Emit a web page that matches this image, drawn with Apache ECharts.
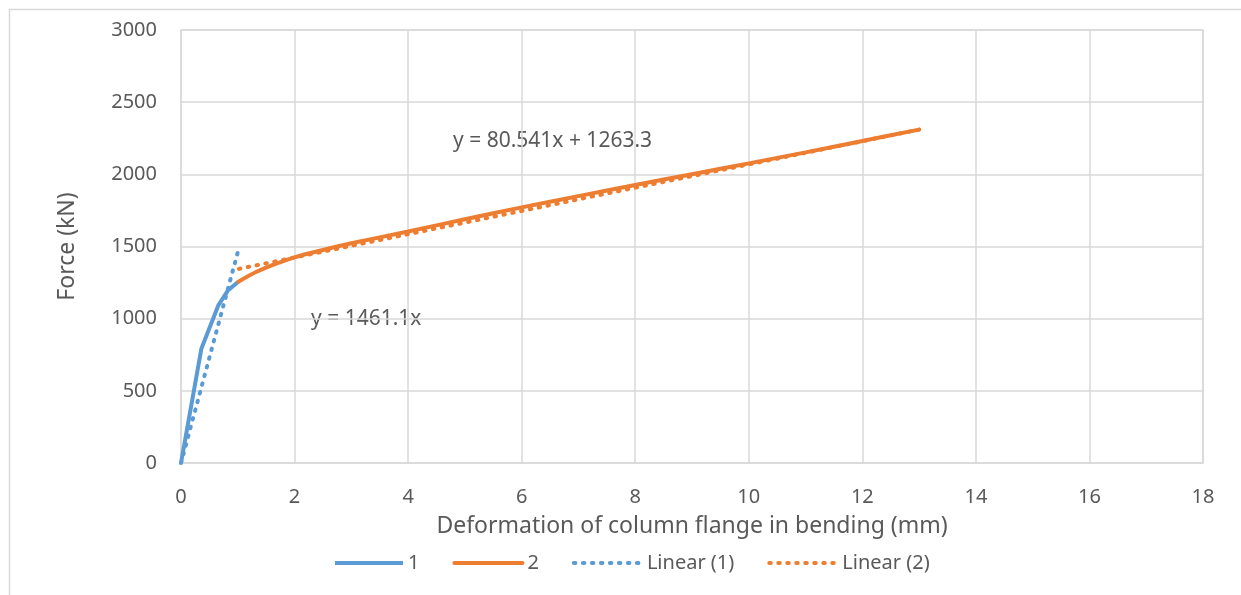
<!DOCTYPE html>
<html>
<head>
<meta charset="utf-8">
<script src="https://cdn.jsdelivr.net/npm/echarts@6/dist/echarts.min.js"></script>
<style>
    html, body { margin: 0; padding: 0; background: #fff; }
    #chart { width: 1241px; height: 595px; }
</style>
</head>
<body>
<div id="chart"></div>
<script>
// curve 1 (elastic part)
const series1 = [[0, 0], [0.36, 794], [0.66, 1094], [0.83, 1198], [1.01, 1256]]
// curve 2 (after yield)
const series2 = [
    [1.01, 1256], [1.33, 1325], [1.69, 1383], [2, 1425], [2.5, 1476], [3, 1522],
    [4, 1604], [5, 1689], [6, 1771], [7, 1849], [8, 1926], [9, 2001],
    [10, 2076], [11, 2152], [12, 2231], [13, 2310]
]
// trendline end points
const trend1 = [[0, 0], [1.02, 1490]]
const trend2 = [[1.02, 1345], [13, 2310]]
const trendLabels = ['y = 1461.1x', 'y = 80.541x + 1263.3']
const seriesNames = ['1', '2', 'Linear (1)', 'Linear (2)']

const blue = '#5B9BD5'
const orange = '#ED7D31'
const textColor = '#595959'
const gridColor = '#d9d9d9'
const font = 'Noto Sans'

const chart = echarts.init(document.getElementById('chart'))

const dotted = (color) => ({ color: color, width: 4, type: [1.5, 7.5], cap: 'round' })

chart.setOption({
    animation: false,
    grid: {
        left: 181, right: 38, top: 30, bottom: 132,
        show: true, borderColor: gridColor, borderWidth: 1.5
    },
    xAxis: {
        type: 'value', min: 0, max: 18, interval: 2,
        name: 'Deformation of column flange in bending (mm)',
        nameLocation: 'middle', nameGap: 52,
        nameTextStyle: { color: textColor, fontSize: 23, fontFamily: font },
        axisLine: { show: false }, axisTick: { show: false },
        axisLabel: { color: textColor, fontSize: 20, fontFamily: font, margin: 24 },
        splitLine: { lineStyle: { color: gridColor, width: 1.5 } }
    },
    yAxis: {
        type: 'value', min: 0, max: 3000, interval: 500,
        name: 'Force (kN)',
        nameLocation: 'middle', nameGap: 102,
        nameTextStyle: { color: textColor, fontSize: 23, fontFamily: font },
        axisLine: { show: false }, axisTick: { show: false },
        axisLabel: { color: textColor, fontSize: 20, fontFamily: font, margin: 24,
                     formatter: (v) => String(v) },
        splitLine: { lineStyle: { color: gridColor, width: 1.5 } }
    },
    legend: {
        left: 328, top: 548,
        itemWidth: 68, itemHeight: 12, itemGap: 33,
        itemStyle: { opacity: 0 },
        lineStyle: { width: 4 },
        textStyle: { color: textColor, fontSize: 20, fontFamily: font },
        data: seriesNames
    },
    graphic: [
        { type: 'rect', left: 7, top: 7, shape: { width: 1250, height: 600 },
          style: { fill: 'none', stroke: gridColor, lineWidth: 1.5 }, silent: true },
        { type: 'text', left: 311, top: 309,
          style: { text: trendLabels[0], fill: textColor, font: '21px "Noto Sans"' } },
        { type: 'text', left: 453, top: 131,
          style: { text: trendLabels[1], fill: textColor, font: '21px "Noto Sans"' } }
    ],
    series: [
        { name: seriesNames[0], type: 'line', data: series1, symbol: 'none',
          lineStyle: { color: blue, width: 4 }, itemStyle: { color: blue }, z: 3 },
        { name: seriesNames[1], type: 'line', data: series2, symbol: 'none', smooth: 0.3,
          lineStyle: { color: orange, width: 4, cap: 'round' }, itemStyle: { color: orange }, z: 3 },
        { name: seriesNames[2], type: 'line', data: trend1, symbol: 'none',
          lineStyle: dotted(blue), itemStyle: { color: blue }, z: 2 },
        { name: seriesNames[3], type: 'line', data: trend2, symbol: 'none',
          lineStyle: dotted(orange), itemStyle: { color: orange }, z: 2 }
    ]
})
</script>
</body>
</html>
